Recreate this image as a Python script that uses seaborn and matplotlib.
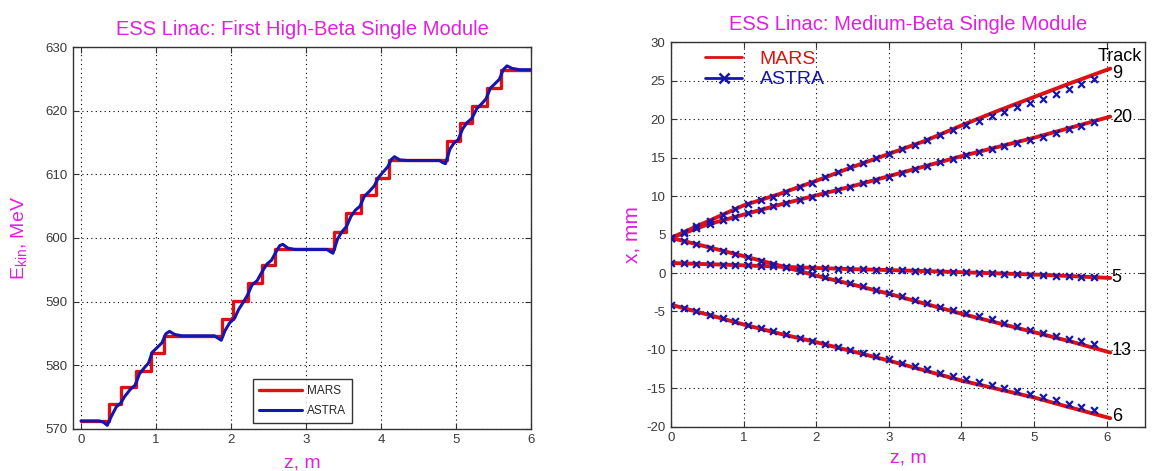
import matplotlib
matplotlib.use("Agg")
import matplotlib.pyplot as plt
from matplotlib.lines import Line2D
import pandas as pd
import seaborn as sns

# ---------------- Left panel: kinetic energy along the high-beta module ----------------
mars_z = [0.0, 0.378, 0.53, 0.733, 0.93, 1.11, 1.876, 2.03, 2.23, 2.41, 2.59,
          3.378, 3.53, 3.733, 3.93, 4.11, 4.876, 5.05, 5.21, 5.42, 5.6, 6.0]
mars_e = [571.2, 573.8, 576.5, 579.1, 581.9, 584.6, 587.3, 590.1, 592.9, 595.7, 598.3,
          601.0, 603.9, 606.7, 609.5, 612.3, 615.2, 618.1, 620.8, 623.6, 626.5, 626.5]

astra_z = [0.0, 0.24, 0.30, 0.35, 0.40, 0.47, 0.53, 0.58, 0.66, 0.72, 0.78, 0.84, 0.90,
           0.95, 1.02, 1.08, 1.13, 1.18, 1.25, 1.35, 1.78, 1.83, 1.87,
           1.92, 1.98, 2.05, 2.10, 2.17, 2.22, 2.28, 2.35, 2.42, 2.48, 2.54, 2.60, 2.65,
           2.69, 2.76, 2.85, 3.28, 3.33, 3.36,
           3.42, 3.48, 3.54, 3.60, 3.66, 3.72, 3.78, 3.85, 3.91, 3.97, 4.03, 4.09, 4.14,
           4.18, 4.25, 4.35, 4.78, 4.82, 4.86,
           4.92, 4.97, 5.03, 5.09, 5.15, 5.21, 5.28, 5.34, 5.40, 5.46, 5.52, 5.58, 5.63,
           5.68, 5.75, 5.85, 6.0]
astra_e = [571.2, 571.2, 571.0, 570.5, 571.8, 573.4, 574.0, 575.0, 576.2, 576.8, 578.6, 579.5, 580.3,
           582.0, 582.8, 583.5, 584.9, 585.3, 584.8, 584.6, 584.6, 584.2, 583.9,
           585.4, 586.6, 587.4, 588.7, 590.0, 591.0, 592.6, 593.3, 594.8, 595.9, 596.5, 597.8, 598.8,
           599.0, 598.4, 598.2, 598.2, 597.8, 597.6,
           599.8, 601.0, 601.8, 603.4, 604.4, 605.0, 606.6, 607.4, 608.2, 609.6, 610.4, 611.2, 612.4,
           612.8, 612.3, 612.2, 612.2, 611.9, 611.7,
           614.0, 614.9, 615.5, 617.2, 618.2, 618.8, 620.4, 621.1, 621.9, 623.6, 624.3, 625.0, 626.5,
           627.1, 626.7, 626.5, 626.5]

# ---------------- Right panel: transverse tracks in the medium-beta module ----------------
track_names = ["9", "20", "5", "13", "6"]

mars_track_z = [0.0, 0.5, 1.0, 1.5, 2.0, 2.5, 3.0, 3.5, 4.0, 4.5, 5.0, 5.5, 6.05]
mars_track_9 = [4.57, 6.7, 8.8, 10.3, 12.0, 13.8, 15.5, 17.2, 19.2, 21.1, 22.9, 24.7, 26.6]
mars_track_20 = [4.57, 6.3, 7.6, 8.9, 10.1, 11.3, 12.6, 13.9, 15.2, 16.4, 17.6, 18.9, 20.35]
mars_track_5 = [1.3, 1.15, 1.0, 0.82, 0.65, 0.5, 0.38, 0.25, 0.1, -0.05, -0.2, -0.4, -0.65]
mars_track_13 = [4.57, 3.4, 2.2, 0.95, -0.35, -1.5, -2.7, -4.0, -5.3, -6.5, -7.7, -8.9, -10.35]
mars_track_6 = [-4.13, -5.4, -6.7, -7.9, -9.0, -10.2, -11.4, -12.7, -14.0, -15.1, -16.2, -17.5, -18.9]

astra_track_z = [0.00, 0.18, 0.35, 0.53, 0.71, 0.88, 1.06, 1.24, 1.41, 1.59, 1.77, 1.94,
                 2.12, 2.30, 2.47, 2.65, 2.83, 3.00, 3.18, 3.36, 3.53, 3.71, 3.89, 4.06,
                 4.24, 4.42, 4.59, 4.77, 4.95, 5.12, 5.30, 5.48, 5.65, 5.83]
astra_track_9 = [4.57, 5.4, 6.1, 6.8, 7.6, 8.3, 9.0, 9.5, 9.9, 10.5, 11.2, 11.7,
                 12.5, 13.1, 13.8, 14.3, 15.0, 15.5, 16.1, 16.7, 17.3, 18.0, 18.6, 19.2,
                 19.8, 20.4, 21.0, 21.6, 22.1, 22.7, 23.3, 23.9, 24.6, 25.3]
astra_track_20 = [4.57, 5.2, 5.8, 6.4, 6.9, 7.3, 7.8, 8.2, 8.7, 9.1, 9.5, 9.9,
                  10.4, 10.8, 11.2, 11.7, 12.1, 12.5, 13.0, 13.5, 13.9, 14.4, 14.8, 15.3,
                  15.7, 16.1, 16.5, 16.9, 17.3, 17.7, 18.2, 18.7, 19.1, 19.6]
astra_track_5 = [1.3, 1.25, 1.2, 1.15, 1.1, 1.05, 0.98, 0.92, 0.85, 0.78, 0.72, 0.66,
                 0.6, 0.55, 0.5, 0.46, 0.42, 0.38, 0.33, 0.28, 0.24, 0.19, 0.14, 0.08,
                 0.02, -0.03, -0.08, -0.14, -0.2, -0.26, -0.33, -0.4, -0.48, -0.56]
astra_track_13 = [4.57, 4.15, 3.75, 3.3, 2.9, 2.5, 2.05, 1.6, 1.2, 0.75, 0.3, -0.1,
                  -0.5, -0.95, -1.35, -1.75, -2.2, -2.6, -3.05, -3.5, -3.95, -4.4, -4.85, -5.2,
                  -5.6, -6.05, -6.5, -6.95, -7.4, -7.8, -8.2, -8.6, -8.9, -9.3]
astra_track_6 = [-4.13, -4.6, -5.0, -5.5, -5.9, -6.3, -6.8, -7.2, -7.6, -8.0, -8.4, -8.8,
                 -9.2, -9.6, -10.0, -10.4, -10.8, -11.2, -11.7, -12.1, -12.5, -13.0, -13.4, -13.8,
                 -14.2, -14.6, -15.0, -15.4, -15.7, -16.1, -16.5, -17.0, -17.4, -17.8]

track_label_y = [26.0, 20.2, -0.6, -10.1, -18.7]

mars_tracks = [mars_track_9, mars_track_20, mars_track_5, mars_track_13, mars_track_6]
astra_tracks = [astra_track_9, astra_track_20, astra_track_5, astra_track_13, astra_track_6]

# ---------------- Styling ----------------
sns.set_theme(style="white")
plt.rcParams["font.family"] = ["Liberation Sans", "DejaVu Sans"]
plt.rcParams["mathtext.fontset"] = "custom"
plt.rcParams["mathtext.rm"] = "Liberation Sans"
plt.rcParams["mathtext.it"] = "Liberation Sans"
plt.rcParams["axes.unicode_minus"] = False

MAGENTA = "#e020e0"
RED = "#dd1111"
BLUE = "#1515b0"
TICK_GRAY = "#3a3a3a"


def style_axes(ax):
    ax.grid(True, color="black", linestyle=(0, (1, 3)), linewidth=0.8)
    ax.tick_params(direction="in", length=4, width=0.8, colors="#333333",
                   labelsize=9.5, labelcolor=TICK_GRAY, pad=4,
                   top=True, right=True, bottom=True, left=True)
    for sp in ax.spines.values():
        sp.set_visible(True)
        sp.set_color("#333333")
        sp.set_linewidth(1.0)


fig = plt.figure(figsize=(11.52, 4.71), dpi=100)
ax1 = fig.add_axes([0.0636, 0.0902, 0.3973, 0.809])
ax2 = fig.add_axes([0.5825, 0.0941, 0.4115, 0.8157])

# Left panel
left_mars = pd.DataFrame({"z": mars_z, "E": mars_e})
left_astra = pd.DataFrame({"z": astra_z, "E": astra_e})
sns.lineplot(data=left_mars, x="z", y="E", ax=ax1, color=RED, linewidth=2.4,
             drawstyle="steps-post", sort=False, estimator=None, label="MARS", zorder=3)
sns.lineplot(data=left_astra, x="z", y="E", ax=ax1, color=BLUE, linewidth=2.2,
             sort=False, estimator=None, label="ASTRA", zorder=4)

ax1.set_xlim(-0.103, 6.0)
ax1.set_ylim(570, 630)
ax1.set_xticks(range(0, 7))
ax1.set_yticks(range(570, 631, 10))
style_axes(ax1)
ax1.set_title("ESS Linac: First High-Beta Single Module", color=MAGENTA,
              fontsize=14.5, pad=9)
ax1.set_xlabel("z, m", color=MAGENTA, fontsize=14, labelpad=6)
ax1.set_ylabel(r"E$_{\mathrm{kin}}$, MeV", color=MAGENTA, fontsize=14, labelpad=12)
leg1 = ax1.legend(loc="lower left", bbox_to_anchor=(0.393, 0.014), borderaxespad=0,
                  fontsize=8.5, frameon=True, fancybox=False, edgecolor="black",
                  handlelength=3.6, handletextpad=0.5, borderpad=0.5, labelspacing=0.7)
leg1.get_frame().set_linewidth(1.0)

# Right panel: MARS lines with ASTRA sample points on top
for name, mz, ma in zip(track_names, mars_tracks, astra_tracks):
    df_a = pd.DataFrame({"z": astra_track_z, "x": ma})
    df_m = pd.DataFrame({"z": mars_track_z, "x": mz})
    sns.lineplot(data=df_m, x="z", y="x", ax=ax2, color=RED, linewidth=2.8,
                 sort=False, estimator=None, zorder=3)
    sns.scatterplot(data=df_a, x="z", y="x", ax=ax2, color=BLUE, marker="x",
                    s=24, linewidth=1.6, zorder=4)

ax2.set_xlim(0, 6.53)
ax2.set_ylim(-20, 30)
ax2.set_xticks(range(0, 7))
ax2.set_yticks(range(-20, 31, 5))
style_axes(ax2)
ax2.set_title("ESS Linac: Medium-Beta Single Module", color=MAGENTA,
              fontsize=14.5, pad=9)
ax2.set_xlabel("z, m", color=MAGENTA, fontsize=14, labelpad=4)
ax2.set_ylabel("x, mm", color=MAGENTA, fontsize=15, labelpad=3)

for name, ly in zip(track_names, track_label_y):
    ax2.text(6.07, ly, name, fontsize=13, color="black", ha="left", va="center")
ax2.text(5.88, 28.2, "Track", fontsize=13, color="black", ha="left", va="center")

handles = [Line2D([], [], color=RED, linewidth=2.0),
           Line2D([], [], color=BLUE, linewidth=2.0, marker="x", markersize=7,
                  markeredgewidth=1.8)]
leg2 = ax2.legend(handles, ["MARS", "ASTRA"], loc="upper left",
                  bbox_to_anchor=(0.068, 0.985), borderaxespad=0, borderpad=0.1,
                  fontsize=14, frameon=False, handlelength=1.9,
                  handletextpad=0.9, labelspacing=0.15)
for txt, col in zip(leg2.get_texts(), [RED, BLUE]):
    txt.set_color(col)

fig.savefig("out.png", dpi=100, facecolor="white")
